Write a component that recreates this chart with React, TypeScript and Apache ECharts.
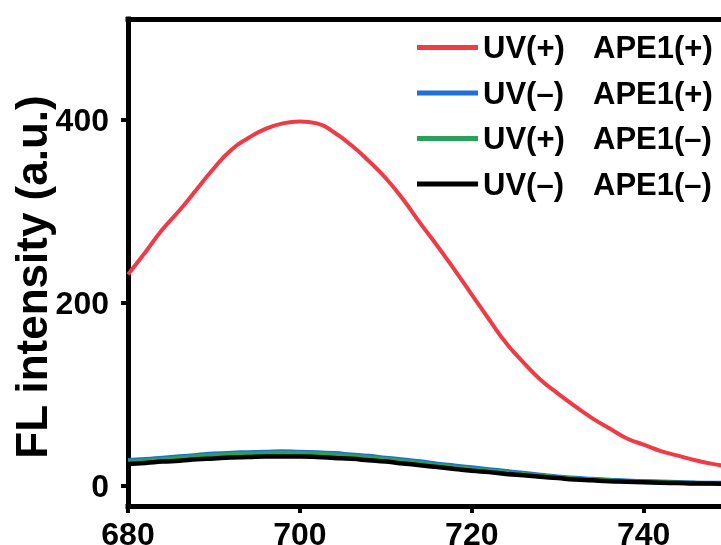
import React, { useEffect, useRef } from "react";
import * as echarts from "echarts";

const wavelengths = [680, 682, 684, 686, 688, 690, 692, 694, 696, 698, 700, 702, 704, 706, 708, 710, 712, 714, 716, 718, 720, 722, 724, 726, 728, 730, 732, 734, 736, 738, 740, 742, 744, 746, 748, 750];

const seriesNames = ["UV(+) APE1(+)", "UV(–) APE1(+)", "UV(+) APE1(–)", "UV(–) APE1(–)"];
const yTitle = "FL intensity (a.u.)";

const uvPlusApePlus = [231, 255, 280, 301, 324, 347, 367, 380, 390, 396, 398, 396, 386, 372, 355, 336, 313, 287, 262, 236, 209, 182, 156, 135, 116, 101, 87, 74, 63, 52, 45, 38, 33, 28, 24, 21];
const uvMinusApePlus = [28, 29, 30.5, 32, 33.5, 35, 36, 36.5, 37, 37.5, 37, 36.5, 35.5, 34, 32.5, 30.5, 28.5, 26.5, 24, 22, 20, 18, 16, 14, 12, 10, 8.5, 7.5, 6.5, 5.5, 5, 4.5, 4, 3.5, 3, 3];
const uvPlusApeMinus = [26.5, 27.5, 29, 30.5, 32, 33.5, 34.5, 35, 35.5, 36, 35.5, 35, 34, 32.5, 31, 29, 27, 25, 22.5, 20.5, 18.5, 16.5, 14.5, 12.8, 11, 9.3, 7.8, 6.8, 5.8, 5, 4.5, 4, 3.5, 3, 2.8, 2.5];
const uvMinusApeMinus = [24, 25, 26.5, 27.5, 29, 30, 31, 31.5, 32, 32, 32, 31.5, 30.5, 29.5, 28, 26.5, 24.5, 22.5, 20.5, 18.5, 16.5, 15, 13, 11.5, 10, 8.5, 7, 6, 5, 4.5, 4, 3.5, 3, 2.5, 2.5, 2];

const xTicks = [680, 700, 720, 740];
const yTicks = [0, 200, 400];

const colors = ["#ee3b46", "#1f6fd6", "#2ba05b", "#000000"];
const FONT = "'Liberation Sans', Arial, sans-serif";

export default function App() {
  const ref = useRef<HTMLDivElement>(null);
  useEffect(() => {
    const chart = echarts.init(ref.current!, null, { renderer: "svg" });
    const allSeries = [uvPlusApePlus, uvMinusApePlus, uvPlusApeMinus, uvMinusApeMinus];
    chart.setOption({
      animation: false,
      grid: { left: 128, right: 0, top: 19, bottom: 39, containLabel: false, outerBoundsMode: "none" },
      graphic: [
        {
          type: "text",
          x: 31,
          y: 277,
          rotation: Math.PI / 2,
          style: {
            text: yTitle,
            fontSize: 44,
            fontWeight: "bold",
            fontFamily: FONT,
            fill: "#000",
            align: "center",
            verticalAlign: "middle",
          },
        },
      ],
      legend: {
        left: 417,
        top: 32,
        padding: 0,
        orient: "vertical",
        icon: "rect",
        itemWidth: 61,
        itemHeight: 5,
        itemGap: 14.5,
        selectedMode: false,
        data: seriesNames,
        formatter: (name: string) => {
          const parts = name.split(" ");
          return `{a|${parts[0]}}{b|${parts[1]}}`;
        },
        textStyle: {
          fontSize: 31,
          fontWeight: "bold",
          color: "#000",
          fontFamily: FONT,
          rich: {
            a: { width: 110, fontSize: 31, fontWeight: "bold", color: "#000", fontFamily: FONT, lineHeight: 30 },
            b: { fontSize: 31, fontWeight: "bold", color: "#000", fontFamily: FONT, lineHeight: 30 },
          },
        },
      },
      xAxis: [
        {
          type: "value",
          min: 680,
          max: 749,
          position: "bottom",
          axisLine: { show: true, onZero: false, lineStyle: { color: "#000", width: 5, cap: "square" } },
          axisTick: { show: true, length: 7, customValues: xTicks, lineStyle: { color: "#000", width: 4 } },
          axisLabel: {
            customValues: xTicks,
            fontSize: 32,
            fontWeight: "bold",
            color: "#000",
            fontFamily: FONT,
            margin: 12,
          },
          splitLine: { show: false },
        },
        {
          type: "value",
          min: 680,
          max: 749,
          position: "top",
          axisLine: { show: true, onZero: false, lineStyle: { color: "#000", width: 5, cap: "square" } },
          axisTick: { show: false },
          axisLabel: { show: false },
          splitLine: { show: false },
        },
      ],
      yAxis: {
        type: "value",
        min: -22,
        max: 510,
        axisLine: { show: true, onZero: false, lineStyle: { color: "#000", width: 5, cap: "square" } },
        axisTick: { show: true, length: 7, customValues: yTicks, lineStyle: { color: "#000", width: 4 } },
        axisLabel: {
          customValues: yTicks,
          fontSize: 32,
          fontWeight: "bold",
          color: "#000",
          fontFamily: FONT,
          margin: 19,
        },
        splitLine: { show: false },
      },
      series: allSeries.map((vals, i) => ({
        name: seriesNames[i],
        type: "line",
        xAxisIndex: 0,
        showSymbol: false,
        smooth: true,
        color: colors[i],
        lineStyle: { color: colors[i], width: i === 0 ? 4 : 4.5 },
        data: wavelengths.map((w, j) => [w, vals[j]]),
        z: 2 + i,
      })),
    });
    return () => chart.dispose();
  }, []);
  return <div ref={ref} style={{ position: "fixed", left: 0, top: 0, width: 721, height: 545 }} />;
}
